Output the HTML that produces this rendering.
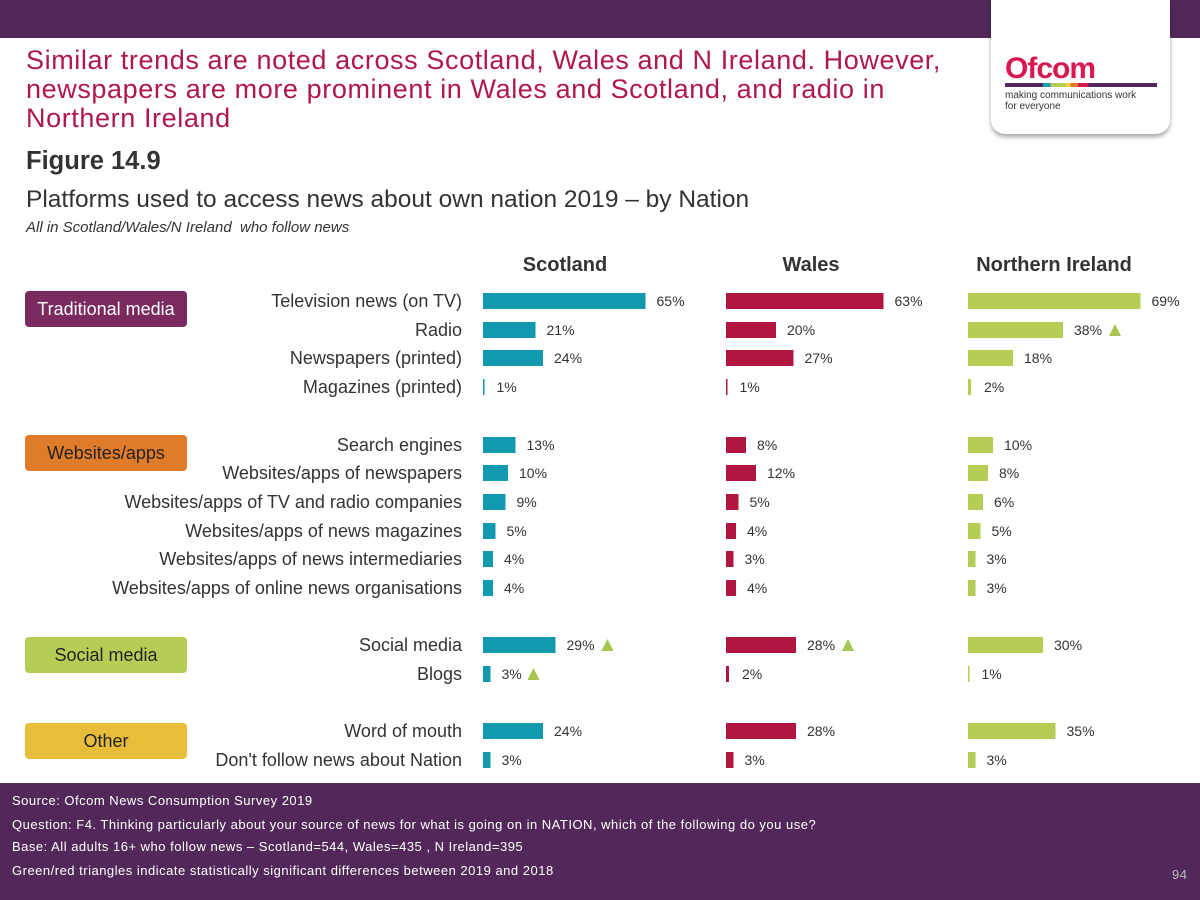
<!DOCTYPE html>
<html><head><meta charset="utf-8">
<style>
body{margin:0;width:1200px;height:900px;overflow:hidden;background:#fff;font-family:"Liberation Sans",sans-serif;position:relative}
.abs{position:absolute}
#topbar{left:0;top:0;width:1200px;height:38px;background:#52285a}
#logo{left:991px;top:0;width:179px;height:134px;background:#fff;border-radius:0 0 14px 14px;box-shadow:0 3px 4px rgba(0,0,0,0.35)}
#title{left:26px;top:46px;width:960px;color:#b0174d;font-size:27px;line-height:29px;letter-spacing:0.6px;white-space:nowrap}
#fig{left:26px;top:147px;font-size:25.5px;font-weight:bold;color:#333}
#subtitle{left:26px;top:186px;font-size:24.5px;color:#333}
#base{left:26px;top:219px;font-size:15px;font-style:italic;color:#333}
#footer{left:0;top:783px;width:1200px;height:117px;background:#52285a;color:#fff;font-size:13px;letter-spacing:0.5px}
#footer div{position:absolute;left:12px}
.cat{position:absolute;left:25px;width:162px;height:36px;border-radius:4px;font-size:18px;text-align:center;line-height:36px}
</style></head><body>
<div id="topbar" class="abs"></div>
<div id="logo" class="abs">
 <div class="abs" style="left:14px;top:54px;font-size:30px;font-weight:bold;color:#d9184f;letter-spacing:-1px;line-height:30px">Ofcom</div>
 <div class="abs" style="left:14px;top:83px;width:152px;height:4px;background:linear-gradient(90deg,#52285a 0 25%,#13a0b5 25% 30%,#b6cd55 30% 40%,#f2d135 40% 43%,#e07b2a 43% 48%,#d9184f 48% 55%,#52285a 55%)"></div>
 <div class="abs" style="left:14px;top:90px;font-size:10px;color:#333;line-height:11px">making communications work<br>for everyone</div>
</div>
<div id="title" class="abs">Similar trends are noted across Scotland, Wales and N Ireland. However,<br>newspapers are more prominent in Wales and Scotland, and radio in<br>Northern Ireland</div>
<div id="fig" class="abs">Figure 14.9</div>
<div id="subtitle" class="abs">Platforms used to access news about own nation 2019 – by Nation</div>
<div id="base" class="abs">All in Scotland/Wales/N Ireland&nbsp; who follow news</div>

<div class="cat" style="top:291px;background:#7a2a5f;color:#fff">Traditional media</div>
<div class="cat" style="top:435px;background:#e07b2a;color:#222">Websites/apps</div>
<div class="cat" style="top:637px;background:#b6cd55;color:#222">Social media</div>
<div class="cat" style="top:723px;background:#e8bd3a;color:#222">Other</div>

<svg id="chart" class="abs" style="left:0;top:0" width="1200" height="783"></svg>

<div id="footer" class="abs">
 <div style="top:10px">Source: Ofcom News Consumption Survey 2019</div>
 <div style="top:34px">Question: F4. Thinking particularly about your source of news for what is going on in NATION, which of the following do you use?</div>
 <div style="top:56px">Base: All adults 16+ who follow news – Scotland=544, Wales=435 , N Ireland=395</div>
 <div style="top:80px">Green/red triangles indicate statistically significant differences between 2019 and 2018</div>
 <div style="top:84px;left:1172px;color:#bbb">94</div>
</div>
<script>
const categories=["Television news (on TV)","Radio","Newspapers (printed)","Magazines (printed)","Search engines","Websites/apps of newspapers","Websites/apps of TV and radio companies","Websites/apps of news magazines","Websites/apps of news intermediaries","Websites/apps of online news organisations","Social media","Blogs","Word of mouth","Don't follow news about Nation"];
const nations=["Scotland","Wales","Northern Ireland"];
const scotland=[65,21,24,1,13,10,9,5,4,4,29,3,24,3];
const wales=[63,20,27,1,8,12,5,4,3,4,28,2,28,3];
const nireland=[69,38,18,2,10,8,6,5,3,3,30,1,35,3];
const scotlandUp=[10,11];
const walesUp=[10];
const nirelandUp=[1];
const series=[scotland,wales,nireland];
const ups=[scotlandUp,walesUp,nirelandUp];
const colors=["#1199b0","#b0163f","#b6cd55"];
const panelX=[483,726,968];
const headX=[565,811,1054];
const rowY=[301,330,358,387,445,473,502,531,559,588,645,674,731,760];
const pxPerPct=2.5;
const svg=document.getElementById('chart');
const NS="http://www.w3.org/2000/svg";
function x(p,v){return panelX[p]+v*pxPerPct;}
function mk(t,a){const e=document.createElementNS(NS,t);for(const k in a)e.setAttribute(k,a[k]);svg.appendChild(e);return e;}
nations.forEach((n,p)=>{
  const t=mk('text',{x:headX[p],y:271,'text-anchor':'middle','font-size':20,'font-weight':'bold',fill:'#333'});
  t.textContent=n;
  
  
});
categories.forEach((c,i)=>{
  const t=mk('text',{x:462,y:rowY[i]+6,'text-anchor':'end','font-size':18,fill:'#333'});
  t.textContent=c;
  
  
});
series.forEach((s,p)=>{
  s.forEach((v,i)=>{
    const w=Math.max(v*pxPerPct-(v<=2?2:0),1.5);
    const r=mk('rect',{x:panelX[p],y:rowY[i]-8,width:w,height:16,fill:colors[p]});
    
    
    const lx=x(p,v)+11;
    const t=mk('text',{x:lx,y:rowY[i]+5,'font-size':14,fill:'#333'});
    t.textContent=v+'%';
    
    
    if(ups[p].includes(i)){
      const tx=lx+(String(v).length+1)*9+14;
      const tri=mk('polygon',{points:`${tx-6},${rowY[i]+6} ${tx+6},${rowY[i]+6} ${tx},${rowY[i]-6}`,fill:'#a8c64e'});
      
      
    }
  });
});
</script>
</body></html>
